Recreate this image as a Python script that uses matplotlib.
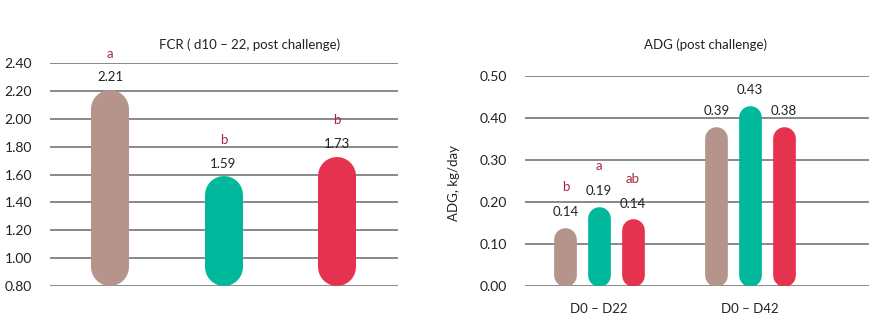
import matplotlib.pyplot as plt
import matplotlib

matplotlib.rcParams['font.family'] = ['Lato', 'DejaVu Sans']

# dados do gráfico FCR
fcr_vals = [2.21, 1.59, 1.73]
fcr_letras = ['a', 'b', 'b']
fcr_ticks = [0.80, 1.00, 1.20, 1.40, 1.60, 1.80, 2.00, 2.20, 2.40]

# dados do gráfico ADG (barras por período)
periodos = ['D0 – D22', 'D0 – D42']
adg_castanho = [0.14, 0.38]
adg_verde = [0.19, 0.43]
adg_vermelho = [0.16, 0.38]
adg_rotulos = [['0.14', '0.39'], ['0.19', '0.43'], ['0.14', '0.38']]
adg_letras = [['b', ''], ['a', ''], ['ab', '']]
adg_ticks = [0.00, 0.10, 0.20, 0.30, 0.40, 0.50]

cores = ['#B5958B', '#00B89C', '#E5334F']
cor_letra = '#A52A40'
cor_texto = '#222222'
cor_grade = '#6a6a6a'

W, H = 884, 331
fig = plt.figure(figsize=(W / 100, H / 100), dpi=100)

ax1 = fig.add_axes([50 / W, 1 - 286 / H, 348 / W, 222.7 / H])
ax2 = fig.add_axes([525 / W, 1 - 286 / H, 344 / W, 210 / H])


def barra_redonda(ax, x, base, topo, larg_px, cor):
    # barra com pontas arredondadas: linha grossa com capstyle round
    y0, y1 = ax.get_ylim()
    alt_px = ax.get_position().height * H
    r = (larg_px / 2) / (alt_px / (y1 - y0))
    ax.plot([x, x], [base + r, topo - r], color=cor, lw=larg_px * 0.72,
            solid_capstyle='round', zorder=3)


def estilo(ax, ticks, fmt):
    for s in ax.spines.values():
        s.set_visible(False)
    ax.set_yticks(ticks)
    ax.set_yticklabels([fmt.format(t) for t in ticks])
    ax.tick_params(axis='y', length=0, pad=13, labelsize=10, labelcolor=cor_texto)
    for t in ticks:
        ax.axhline(t, color=cor_grade, lw=1.1, zorder=1)


# ---- FCR ----
ax1.set_ylim(0.80, 2.40)
ax1.set_xlim(-0.529, 2.537)
estilo(ax1, fcr_ticks, '{:.2f}')
ax1.set_xticks([])
for i, v in enumerate(fcr_vals):
    barra_redonda(ax1, i, 0.80, v, 38, cores[i])
    ax1.annotate(f'{v:.2f}', (i, v), xytext=(0, 9), textcoords='offset points',
                 ha='center', va='center', fontsize=9.5, color=cor_texto,
                 annotation_clip=False)
    ax1.annotate(fcr_letras[i], (i, v), xytext=(0, 26), textcoords='offset points',
                 ha='center', va='center', fontsize=9.5, color=cor_letra,
                 annotation_clip=False)
fig.text(250 / W, 1 - 45 / H, 'FCR ( d10 – 22, post challenge)', ha='center',
         va='center', fontsize=9.5, color=cor_texto)

# ---- ADG ----
ax2.set_ylim(0.0, 0.50)
ax2.set_xlim(-0.490, 1.788)
estilo(ax2, adg_ticks, '{:.2f}')
ax2.set_xticks(range(len(periodos)))
ax2.set_xticklabels(periodos)
ax2.tick_params(axis='x', length=0, pad=12, labelsize=9.5, labelcolor=cor_texto)
ax2.set_ylabel('ADG, kg/day', fontsize=9.5, color=cor_texto)
ax2.yaxis.set_label_coords(-0.189, 0.49)

deslocs = [-0.222, 0.0, 0.222]
series = [adg_castanho, adg_verde, adg_vermelho]
for k, serie in enumerate(series):
    for g, v in enumerate(serie):
        x = g + deslocs[k]
        barra_redonda(ax2, x, 0.0, v, 22.7, cores[k])
        ax2.annotate(adg_rotulos[k][g], (x, v), xytext=(0, 11), textcoords='offset points',
                     ha='center', va='center', fontsize=9.5, color=cor_texto,
                     annotation_clip=False)
        if adg_letras[k][g]:
            ax2.annotate(adg_letras[k][g], (x, v), xytext=(0, 29), textcoords='offset points',
                         ha='center', va='center', fontsize=9.5, color=cor_letra,
                         annotation_clip=False)
fig.text(705 / W, 1 - 45 / H, 'ADG (post challenge)', ha='center',
         va='center', fontsize=9.5, color=cor_texto)

fig.savefig('out.png', dpi=100)
